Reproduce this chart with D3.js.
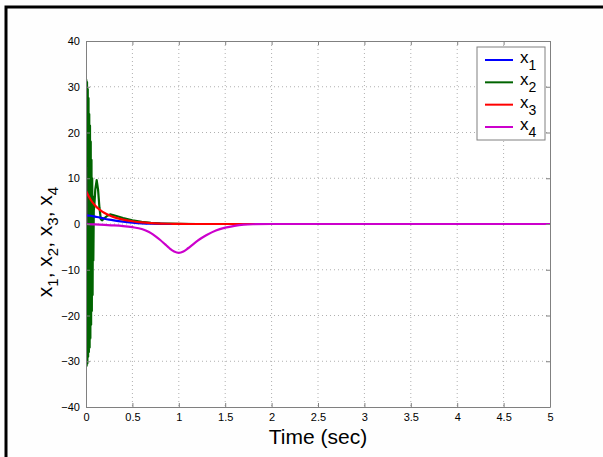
<!DOCTYPE html>
<html>
<head>
<meta charset="utf-8">
<script src="https://cdn.jsdelivr.net/npm/d3@7"></script>
<style>
  body { margin: 0; background: #fefefe; }
  svg { display: block; font-family: "Liberation Sans", Arial, sans-serif; }
</style>
</head>
<body>
<div id="chart"></div>
<script>
"use strict";

// state trajectories (time in sec, value)
var x1Time = [0, 0.05, 0.1, 0.15, 0.2, 0.25, 0.3, 0.4, 0.5, 0.6, 0.7, 0.8, 1.0, 1.2, 5];
var x1Vals = [1.9, 1.8, 1.6, 1.4, 1.15, 0.95, 0.78, 0.5, 0.3, 0.15, 0.06, 0.02, 0, 0, 0];

var x2Time = [0, 0.003, 0.007, 0.011, 0.015, 0.019, 0.023, 0.027, 0.031, 0.035, 0.039, 0.043,
              0.047, 0.051, 0.055, 0.059, 0.063, 0.067, 0.071, 0.075, 0.079, 0.084, 0.09, 0.1,
              0.115, 0.13, 0.145, 0.16, 0.175, 0.2, 0.23, 0.26, 0.3, 0.4, 0.5, 0.6, 0.7, 0.8, 1.0, 1.2, 5];
var x2Vals = [0, 31.5, -31, 31, -30.5, 29.5, -29, 27.5, -28, 24, -27, 21.5,
              -25, 18, -22, 14, -19, 10, -15.5, 6, -8, 3, 4, 7.5,
              9.6, 7.5, 3.5, 1, 0.8, 1.3, 1.8, 2.1, 1.9, 1.3, 0.8, 0.45, 0.25, 0.12, 0.03, 0, 0];

var x3Time = [0, 0.05, 0.1, 0.15, 0.2, 0.25, 0.3, 0.4, 0.5, 0.6, 0.7, 0.8, 0.9, 1.0, 1.2, 5];
var x3Vals = [7.2, 5.3, 4.0, 3.1, 2.4, 1.9, 1.5, 0.95, 0.6, 0.35, 0.2, 0.1, 0.05, 0.02, 0, 0];

var x4Time = [0, 0.002, 0.1, 0.2, 0.3, 0.4, 0.5, 0.6, 0.65, 0.7, 0.75, 0.8, 0.85, 0.9, 0.95, 1.0,
              1.05, 1.1, 1.15, 1.2, 1.25, 1.3, 1.4, 1.5, 1.6, 1.7, 1.8, 2.0, 5];
var x4Vals = [12.5, 0, -0.1, -0.2, -0.3, -0.45, -0.7, -1.1, -1.5, -2.0, -2.7, -3.5, -4.4, -5.3, -6.0, -6.3,
              -6.0, -5.3, -4.5, -3.7, -3.0, -2.4, -1.4, -0.8, -0.4, -0.15, -0.05, 0, 0];

var seriesNames = ["1", "2", "3", "4"];
var seriesColors = ["#0000ff", "#006400", "#ff0000", "#cc00cc"];
var xTicks = [0, 0.5, 1, 1.5, 2, 2.5, 3, 3.5, 4, 4.5, 5];
var yTicks = [-40, -30, -20, -10, 0, 10, 20, 30, 40];

var W = 603, H = 457;
var margin = { top: 41, right: 53, bottom: 50, left: 86 };
var w = W - margin.left - margin.right,
    h = H - margin.top - margin.bottom;

var x = d3.scaleLinear().domain([0, 5]).range([0, w]);
var y = d3.scaleLinear().domain([-40, 40]).range([h, 0]);

var svg = d3.select("#chart").append("svg")
  .attr("width", W)
  .attr("height", H);

// figure frame (black, only top and left visible)
svg.append("path")
  .attr("d", "M6,457 V7 H603")
  .attr("fill", "none")
  .attr("stroke", "#000")
  .attr("stroke-width", 3);

var g = svg.append("g")
  .attr("transform", "translate(" + margin.left + "," + margin.top + ")");

g.append("rect")
  .attr("width", w)
  .attr("height", h)
  .attr("fill", "#fff");

// grid
g.append("g").selectAll("line").data(xTicks.slice(1, -1)).join("line")
  .attr("x1", d => x(d)).attr("x2", d => x(d))
  .attr("y1", 0).attr("y2", h)
  .attr("stroke", "#b0b0b0").attr("stroke-dasharray", "1,3");
g.append("g").selectAll("line").data(yTicks.slice(1, -1)).join("line")
  .attr("y1", d => y(d)).attr("y2", d => y(d))
  .attr("x1", 0).attr("x2", w)
  .attr("stroke", "#b0b0b0").attr("stroke-dasharray", "1,3");

// lines
g.append("clipPath").attr("id", "clip")
  .append("rect").attr("width", w).attr("height", h);

var series = [
  { t: x1Time, v: x1Vals, curve: d3.curveMonotoneX },
  { t: x2Time, v: x2Vals, curve: d3.curveLinear },
  { t: x3Time, v: x3Vals, curve: d3.curveMonotoneX },
  { t: x4Time, v: x4Vals, curve: d3.curveMonotoneX }
];

// draw order: blue, green, red, magenta on top
[1, 0, 2, 3].forEach(function(i) {
  var pts = series[i].t.map((t, k) => [t, series[i].v[k]]);
  var line = d3.line().x(d => x(d[0])).y(d => y(d[1])).curve(series[i].curve);
  g.append("path")
    .attr("clip-path", "url(#clip)")
    .attr("d", line(pts))
    .attr("fill", "none")
    .attr("stroke", seriesColors[i])
    .attr("stroke-width", 2.2)
    .attr("stroke-linejoin", "round");
});

// axes (box with inward ticks on all sides)
var axisColor = "#808080";
var xAxis = d3.axisBottom(x).tickValues(xTicks).tickSizeInner(-4).tickSizeOuter(0).tickPadding(6)
  .tickFormat(d3.format("~g"));
var yAxis = d3.axisLeft(y).tickValues(yTicks).tickSizeInner(-4).tickSizeOuter(0).tickPadding(6);

g.append("g").attr("transform", "translate(0," + h + ")").call(xAxis);
g.append("g").call(yAxis);
g.append("g").call(d3.axisTop(x).tickValues(xTicks).tickSizeInner(-4).tickSizeOuter(0).tickFormat(""));
g.append("g").attr("transform", "translate(" + w + ",0)")
  .call(d3.axisRight(y).tickValues(yTicks).tickSizeInner(-4).tickSizeOuter(0).tickFormat(""));

g.selectAll(".domain").attr("stroke", axisColor);
g.selectAll(".tick line").attr("stroke", axisColor);
g.selectAll(".tick text")
  .attr("fill", "#000")
  .style("font-size", "11px")
  .style("font-family", "Liberation Sans, Arial, sans-serif");

// axis labels
svg.append("text")
  .attr("x", margin.left + w / 2)
  .attr("y", 444)
  .attr("text-anchor", "middle")
  .style("font-size", "21px")
  .text("Time (sec)");

var yl = svg.append("text")
  .attr("transform", "translate(52," + (margin.top + h / 2 + 18) + ") rotate(-90)")
  .attr("text-anchor", "middle")
  .style("font-size", "21px");
seriesNames.forEach(function(n, i) {
  yl.append("tspan").attr("dy", i === 0 ? 0 : -6).text((i === 0 ? "" : ", ") + "x");
  yl.append("tspan").attr("dy", 6).style("font-size", "15px").text(n);
});

// legend
var legend = svg.append("g").attr("transform", "translate(477,47)");
legend.append("rect")
  .attr("width", 68).attr("height", 93)
  .attr("fill", "#fff").attr("stroke", axisColor);
var rowY = d3.scalePoint().domain(seriesNames).range([13, 80]);
seriesNames.forEach(function(n, i) {
  var ry = rowY(n);
  legend.append("line")
    .attr("x1", 8).attr("x2", 36).attr("y1", ry).attr("y2", ry)
    .attr("stroke", seriesColors[i]).attr("stroke-width", 2);
  var t = legend.append("text").attr("x", 43).attr("y", ry + 3).style("font-size", "17px");
  t.append("tspan").text("x");
  t.append("tspan").attr("dy", 7).style("font-size", "14px").text(n);
});
</script>
</body>
</html>
